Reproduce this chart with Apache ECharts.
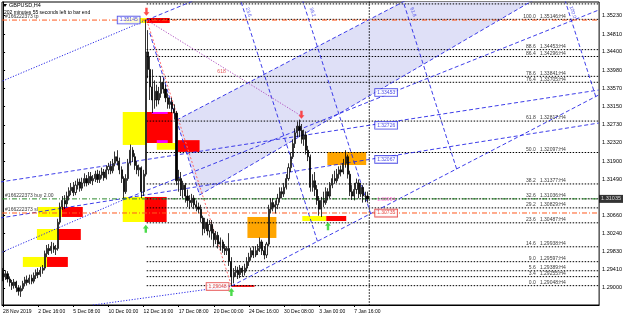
<!DOCTYPE html>
<html><head><meta charset="utf-8">
<script src="https://cdn.jsdelivr.net/npm/echarts@6/dist/echarts.min.js"></script>
<style>html,body{margin:0;padding:0;background:#fff}#c{width:625px;height:320px}</style>
</head><body><div id="c"></div>
<script>
// [open, close, low, high]
const candles = [
[1.2935,1.2925,1.2915,1.2945],[1.2925,1.2932,1.2918,1.2940],[1.2932,1.2920,1.2912,1.2938],[1.2920,1.2912,1.2903,1.2926],
[1.2912,1.2905,1.2895,1.2918],[1.2905,1.2913,1.2898,1.2920],[1.2913,1.2900,1.2890,1.2916],[1.2900,1.2892,1.2882,1.2906],
[1.2892,1.2898,1.2879,1.2905],[1.2898,1.2910,1.2893,1.2916],[1.2910,1.2918,1.2903,1.2925],[1.2918,1.2912,1.2905,1.2928],
[1.2912,1.2922,1.2908,1.2930],[1.2922,1.2915,1.2908,1.2930],[1.2915,1.2928,1.2910,1.2935],[1.2928,1.2935,1.2920,1.2942],
[1.2935,1.2930,1.2922,1.2945],[1.2930,1.2940,1.2925,1.2948],[1.2940,1.2945,1.2932,1.2952],[1.2945,1.2978,1.2940,1.2985],
[1.2978,1.2990,1.2970,1.2998],[1.2990,1.2985,1.2975,1.3000],[1.2985,1.2995,1.2978,1.3005],[1.2995,1.2988,1.2980,1.3003],
[1.2988,1.2990,1.2975,1.2998],[1.2990,1.3050,1.2985,1.3058],[1.3050,1.3085,1.3045,1.3095],[1.3085,1.3100,1.3078,1.3110],
[1.3100,1.3092,1.3080,1.3112],[1.3092,1.3110,1.3085,1.3120],[1.3110,1.3122,1.3100,1.3130],[1.3122,1.3130,1.3112,1.3140],
[1.3130,1.3118,1.3110,1.3142],[1.3118,1.3135,1.3112,1.3145],[1.3135,1.3142,1.3125,1.3150],[1.3142,1.3128,1.3120,1.3150],
[1.3128,1.3140,1.3122,1.3152],[1.3140,1.3150,1.3132,1.3162],[1.3150,1.3140,1.3132,1.3158],[1.3140,1.3155,1.3135,1.3165],
[1.3155,1.3145,1.3138,1.3165],[1.3145,1.3150,1.3135,1.3158],[1.3150,1.3160,1.3142,1.3168],[1.3160,1.3148,1.3140,1.3170],
[1.3148,1.3158,1.3140,1.3168],[1.3158,1.3165,1.3150,1.3175],[1.3165,1.3152,1.3145,1.3172],[1.3152,1.3170,1.3148,1.3180],
[1.3170,1.3178,1.3160,1.3186],[1.3178,1.3168,1.3160,1.3190],[1.3168,1.3185,1.3162,1.3195],[1.3185,1.3200,1.3178,1.3212],
[1.3200,1.3190,1.3180,1.3215],[1.3190,1.3170,1.3160,1.3198],[1.3170,1.3150,1.3140,1.3178],[1.3150,1.3120,1.3105,1.3155],
[1.3120,1.3150,1.3115,1.3160],[1.3150,1.3185,1.3145,1.3195],[1.3185,1.3215,1.3180,1.3228],[1.3215,1.3200,1.3188,1.3222],
[1.3200,1.3180,1.3170,1.3208],[1.3180,1.3170,1.3160,1.3190],[1.3170,1.3175,1.3155,1.3182],[1.3175,1.3120,1.3105,1.3178],
[1.3120,1.3160,1.3110,1.3170],[1.3160,1.3440,1.3155,1.3514],[1.3440,1.3400,1.3380,1.3490],[1.3400,1.3360,1.3330,1.3430],
[1.3360,1.3330,1.3300,1.3400],[1.3330,1.3350,1.3310,1.3375],[1.3350,1.3330,1.3315,1.3365],[1.3330,1.3345,1.3320,1.3360],
[1.3345,1.3370,1.3335,1.3385],[1.3370,1.3355,1.3345,1.3380],[1.3355,1.3335,1.3325,1.3365],[1.3335,1.3320,1.3310,1.3345],
[1.3320,1.3325,1.3310,1.3335],[1.3325,1.3310,1.3300,1.3335],[1.3310,1.3300,1.3285,1.3320],[1.3300,1.3145,1.3135,1.3305],
[1.3145,1.3150,1.3120,1.3170],[1.3150,1.3125,1.3110,1.3165],[1.3125,1.3135,1.3105,1.3145],[1.3135,1.3110,1.3095,1.3140],
[1.3110,1.3100,1.3085,1.3125],[1.3100,1.3095,1.3080,1.3112],[1.3095,1.3105,1.3085,1.3115],[1.3105,1.3090,1.3080,1.3112],
[1.3090,1.3085,1.3075,1.3100],[1.3085,1.3080,1.3070,1.3095],[1.3080,1.3060,1.3050,1.3090],[1.3060,1.3035,1.3020,1.3065],
[1.3035,1.3050,1.3025,1.3060],[1.3050,1.3030,1.3020,1.3058],[1.3030,1.3045,1.3015,1.3055],[1.3045,1.3025,1.3010,1.3055],
[1.3025,1.3010,1.2995,1.3035],[1.3010,1.3020,1.3000,1.3030],[1.3020,1.3000,1.2990,1.3028],[1.3000,1.3005,1.2985,1.3015],
[1.3005,1.2990,1.2980,1.3010],[1.2990,1.2985,1.2975,1.3000],[1.2985,1.2990,1.2975,1.2995],[1.2990,1.2960,1.2950,1.3025],
[1.2960,1.2925,1.2905,1.2970],[1.2925,1.2935,1.2910,1.2945],[1.2935,1.2940,1.2925,1.2950],[1.2940,1.2930,1.2920,1.2948],
[1.2930,1.2945,1.2922,1.2952],[1.2945,1.2935,1.2925,1.2950],[1.2935,1.2945,1.2928,1.2955],[1.2945,1.2960,1.2938,1.2970],
[1.2960,1.2970,1.2950,1.2980],[1.2970,1.2985,1.2962,1.2992],[1.2985,1.2975,1.2968,1.2995],[1.2975,1.2985,1.2970,1.2995],
[1.2985,1.2990,1.2975,1.3000],[1.2990,1.3005,1.2982,1.3015],[1.3005,1.2985,1.2975,1.3010],[1.2985,1.2975,1.2965,1.2995],
[1.2975,1.3000,1.2968,1.3005],[1.3000,1.3080,1.2995,1.3090],[1.3080,1.3095,1.3070,1.3105],[1.3095,1.3085,1.3075,1.3105],
[1.3085,1.3090,1.3070,1.3100],[1.3090,1.3105,1.3080,1.3115],[1.3105,1.3120,1.3095,1.3130],[1.3120,1.3115,1.3105,1.3130],
[1.3115,1.3130,1.3108,1.3140],[1.3130,1.3150,1.3125,1.3160],[1.3150,1.3175,1.3145,1.3185],[1.3175,1.3200,1.3165,1.3210],
[1.3200,1.3230,1.3195,1.3240],[1.3230,1.3255,1.3220,1.3265],[1.3255,1.3270,1.3245,1.3280],[1.3270,1.3260,1.3245,1.3285],
[1.3260,1.3240,1.3230,1.3275],[1.3240,1.3250,1.3225,1.3262],[1.3250,1.3215,1.3205,1.3258],[1.3215,1.3200,1.3190,1.3225],
[1.3200,1.3130,1.3120,1.3205],[1.3130,1.3145,1.3120,1.3160],[1.3145,1.3125,1.3110,1.3165],[1.3125,1.3100,1.3090,1.3135],
[1.3100,1.3080,1.3065,1.3110],[1.3080,1.3100,1.3062,1.3108],[1.3100,1.3095,1.3085,1.3120],[1.3095,1.3120,1.3090,1.3130],
[1.3120,1.3110,1.3100,1.3128],[1.3110,1.3135,1.3105,1.3142],[1.3135,1.3150,1.3128,1.3160],[1.3150,1.3145,1.3138,1.3168],
[1.3145,1.3160,1.3140,1.3172],[1.3160,1.3170,1.3150,1.3178],[1.3170,1.3165,1.3155,1.3180],[1.3165,1.3185,1.3160,1.3195],
[1.3185,1.3200,1.3175,1.3215],[1.3200,1.3160,1.3150,1.3205],[1.3160,1.3120,1.3110,1.3168],[1.3120,1.3110,1.3101,1.3135],
[1.3110,1.3125,1.3100,1.3140],[1.3125,1.3140,1.3115,1.3150],[1.3140,1.3115,1.3105,1.3148],[1.3115,1.3130,1.3108,1.3140],
[1.3130,1.3110,1.3095,1.3135],[1.3110,1.3110,1.3096,1.3120],[1.3110,1.31035,1.3095,1.3120]
];
const barSlots = 272;
const timeLabels = ['28 Nov 2019','2 Dec 16:00','5 Dec 08:00','10 Dec 00:00','12 Dec 16:00','17 Dec 08:00','20 Dec 00:00','24 Dec 16:00','30 Dec 08:00','3 Jan 00:00','7 Jan 16:00'];
const labelEvery = 16;
const priceTicks = [1.35230,1.34810,1.34400,1.33980,1.33570,1.33150,1.32730,1.32320,1.31900,1.31490,1.30660,1.30240,1.29830,1.29410,1.29000,1.28580];
const fibLevels = [100.0,88.6,86.4,78.6,76.4,61.8,50.0,38.2,32.6,29.2,23.6,14.6,9.0,5.6,3.4,0.0];
const fibPrices = [1.35146,1.34453,1.34296,1.33841,1.33705,1.32817,1.32097,1.31377,1.31036,1.30829,1.30487,1.29938,1.29597,1.29389,1.29255,1.29048];
const fibExtraPrice = 1.3550;
const fibStart = 65.4;
const bidPrice = 1.31035;
const tpPrice = 1.3513, slPrice = 1.30712, buyPrice = 1.31035;
const vLineBar = 166.8;
// zones: [barFrom, barTo, priceTop, priceBottom]
const yellowZones = [[54.5,65.4,1.33025,1.3227],[70,79,1.32315,1.3216],[54.5,64.5,1.31079,1.30506],[15.9,26.8,1.3085,1.30621],[15.4,25,1.30346,1.30094],[9,20,1.29705,1.29476],[136.3,147.2,1.30643,1.30529],[55.4,65.4,1.35177,1.35062]];
const redZones = [[65.4,77.2,1.33025,1.32315],[79.5,89.5,1.3238,1.3211],[64.5,74.5,1.31079,1.30506],[26.8,36.3,1.3085,1.30621],[25,35.4,1.30346,1.30094],[20,29.5,1.29705,1.29476],[147.2,156.3,1.30643,1.30529],[65.4,75.9,1.35177,1.35062],[104,114.5,1.2906,1.2902]];
const magentaZones = [[67.7,75,1.33025,1.3298],[70,75,1.3238,1.32315]];
const orangeZones = [[111.3,124.5,1.30621,1.3014],[147.7,165.4,1.32109,1.31811]];
// shaded channel polygon [bar, price]
const channelFill = [[79.05,1.32841],[201.3,1.36047],[257.23,1.36047],[89.5,1.31124]];
// trend lines: [[bar1, price1], [bar2, price2]]
const dashedBlue = [
  [[65.41,1.35131],[90,1.3564]],
  [[104.05,1.2904],[271.3,1.33414]],
  [[-1.41,1.31421],[271.3,1.33528]],
  [[-1.41,1.30597],[271.3,1.32772]],
  [[54.5,1.31009],[271.3,1.35360]],
  [[79.05,1.32841],[201.3,1.36047]],
  [[89.5,1.31124],[257.23,1.36047]],
  [[66.8,1.34833],[89.5,1.31124]],
  [[143.2,1.30064],[104.56,1.36154]],
  [[167.42,1.30697],[128.78,1.36787]],
  [[206.58,1.31721],[167.94,1.37811]],
  [[269.95,1.33378],[231.31,1.39468]]
];
const dottedBlue = [
  [[-1.41,1.33711],[65.41,1.35131]],
  [[40.86,1.28604],[104.05,1.2904]],
  [[-1.41,1.29795],[54.5,1.31009]]
];
const fibAnchorLine = [[65.41,1.35131],[104.05,1.2904]];
const purpleLine = [[65.41,1.35131],[135.86,1.32933]];
const channelLevelTags = [[111.8,1.3531,'23.6'],[140.9,1.3531,'38.2'],[186.8,1.3531,'61.8'],[259.5,1.3531,'100.0']];
const downArrows = [[65.3,1.3532],[135.9,1.3296],[-0.6,1.2959]];
const upArrows = [[65,1.3035],[104,1.2890],[148,1.3041]];
const blueTags = [[57.2,1.3513,'1.35145'],[174.5,1.3347,'1.33453'],[174.5,1.3272,'1.32726'],[174.5,1.3194,'1.32067']];
const redTags = [[97.7,1.2903,'1.29048'],[174.5,1.3071,'1.30735']];
const pinkTags = [[174.5,1.3101,'1.30954']];
const redNotes = [[99.5,1.3394,'618']];

const chart = echarts.init(document.getElementById('c'));
const F = 'Liberation Sans, Arial, sans-serif';
const cats = Array.from({length: barSlots}, (_, i) => i);

function rectSeries(zones, fill) {
  return {
    type: 'custom', xAxisIndex: 1, yAxisIndex: 0, clip: true, silent: true, z: 2,
    data: zones,
    renderItem: function (params, api) {
      const a = api.coord([api.value(0), api.value(2)]);
      const b = api.coord([api.value(1), api.value(3)]);
      return { type: 'rect', shape: { x: a[0], y: a[1], width: b[0] - a[0], height: Math.max(1.5, b[1] - a[1]) },
        style: { fill: fill } };
    }
  };
}
function seg(points, color, type, width, z) {
  return { type: 'line', xAxisIndex: 1, data: points, symbol: 'none', clip: true, silent: true, z: z || 3,
    lineStyle: { color: color, type: type, width: width || 1 } };
}
function hline(price, color, type) {
  return seg([[-0.5, price], [barSlots - 0.5, price]], color, type, 1, 4);
}
function textSeries(items, pos, offset, style, z) {
  return { type: 'scatter', xAxisIndex: 1, data: items.map(t => ({ value: [t[0], t[1]], name: t[2] })), symbolSize: 0, z: z || 8, silent: true,
    label: Object.assign({ show: true, position: pos, distance: 0, offset: offset, formatter: p => p.name, fontSize: 5, fontFamily: F }, style) };
}

const series = [];
series.push({ type: 'custom', xAxisIndex: 1, clip: true, silent: true, z: 1, data: [0],
  renderItem: function (params, api) {
    return { type: 'polygon', shape: { points: channelFill.map(p => api.coord(p)) }, style: { fill: '#dfe0f7' } };
  } });
series.push(rectSeries(yellowZones, '#ffff00'));
series.push(rectSeries(redZones, '#ff0000'));
series.push(rectSeries(magentaZones, '#ff00ff'));
series.push(rectSeries(orangeZones, '#ffa500'));
fibPrices.concat([fibExtraPrice]).forEach(p => series.push(seg([[fibStart, p], [barSlots - 0.5, p]], '#000', [1.5, 1.5], 1, 3)));
series.push(seg([[vLineBar, 1.2], [vLineBar, 1.4]], '#000', [1.5, 1.5], 1, 3));
dashedBlue.forEach(l => series.push(seg(l, '#2828e6', [4, 2.5], 0.9, 3)));
dottedBlue.forEach(l => series.push(seg(l, '#2828e6', [1.2, 1.6], 1, 3)));
series.push(seg(fibAnchorLine, '#ff6a6a', [2, 2], 1, 3));
series.push(seg(purpleLine, '#b050c0', [1.2, 1.6], 1, 3));
series.push(hline(tpPrice, '#ff5a1e', [5, 2, 1, 2]));
series.push(hline(slPrice, '#ff5a1e', [5, 2, 1, 2]));
series.push(hline(buyPrice, '#2e8b2e', [5, 2, 1, 2]));
series.push({ type: 'candlestick', xAxisIndex: 0, data: candles, barWidth: 1.6, z: 5,
  itemStyle: { color: '#ffffff', color0: '#000000', borderColor: '#000000', borderColor0: '#000000', borderWidth: 0.8 } });
series.push(textSeries(fibPrices.map((p, k) => [256.3, p, fibLevels[k].toFixed(1) + '   ' + p.toFixed(5) + ':H4']), 'left', [0, -3], { color: '#000' }, 6));
series.push(textSeries([[0.9, tpPrice, '#166222373 tp'], [0.9, slPrice, '#166222373 sl'], [0.9, buyPrice, '#166222373 buy 2.00']], 'right', [0, -3], { color: '#000' }, 6));
series.push(textSeries([[barSlots - 0.5, bidPrice, bidPrice.toFixed(5)]], 'right', [0, 0], { color: '#fff', backgroundColor: '#000', padding: [1, 2], fontSize: 5.5 }, 9));
series.push(textSeries(channelLevelTags, 'inside', [0, 0], { color: '#2828e6', rotate: -72 }, 6));
series.push({ type: 'scatter', xAxisIndex: 1, data: downArrows, z: 7, silent: true, clip: true,
  symbol: 'path://M3,0 L7,0 L7,6 L10,6 L5,11 L0,6 L3,6 Z', symbolSize: [6, 8], itemStyle: { color: '#ff1e1e' } });
series.push({ type: 'scatter', xAxisIndex: 1, data: upArrows, z: 7, silent: true,
  symbol: 'path://M3,11 L7,11 L7,5 L10,5 L5,0 L0,5 L3,5 Z', symbolSize: [6, 8], itemStyle: { color: '#1ed21e' } });
series.push(textSeries(blueTags, 'inside', [0, 0], { color: '#2020e0', backgroundColor: '#fff', borderColor: '#2020e0', borderWidth: 0.8, padding: [1, 2] }, 8));
series.push(textSeries(redTags, 'inside', [0, 0], { color: '#e02020', backgroundColor: '#fff', borderColor: '#e02020', borderWidth: 0.8, padding: [1, 2] }, 8));
series.push(textSeries(pinkTags, 'inside', [0, 0], { color: '#ff50c8' }, 8));
series.push(textSeries(redNotes, 'inside', [0, 0], { color: '#e03030' }, 8));

const option = {
  animation: false,
  backgroundColor: '#ffffff',
  grid: { left: 2, right: 25, top: 2, bottom: 15, show: true, borderColor: '#000', borderWidth: 1, backgroundColor: 'transparent' },
  xAxis: [
    { type: 'category', data: cats, boundaryGap: true,
      axisLine: { show: true, lineStyle: { color: '#000', width: 1 } },
      axisTick: { show: true, alignWithLabel: true, interval: (i) => i % labelEvery === 0 && i / labelEvery < timeLabels.length, length: 2, lineStyle: { color: '#000' } },
      axisLabel: { interval: (i) => i % labelEvery === 0 && i / labelEvery < timeLabels.length, formatter: (v, i) => timeLabels[i / labelEvery] || '', fontSize: 5, fontFamily: F, color: '#000', align: 'left', margin: 4 },
      splitLine: { show: false } },
    { type: 'value', min: -0.5, max: barSlots - 0.5, show: false }
  ],
  yAxis: { type: 'value', position: 'right', min: 1.28605, max: 1.355437, scale: true,
    axisLine: { show: true, lineStyle: { color: '#000', width: 1 } },
    axisTick: { show: true, length: 2, customValues: priceTicks, lineStyle: { color: '#000' } },
    axisLabel: { customValues: priceTicks, formatter: v => v.toFixed(5), fontSize: 5.5, fontFamily: F, color: '#000', margin: 3 },
    splitLine: { show: false } },
  graphic: [
    { type: 'text', left: 9, top: 2, style: { text: 'GBPUSD,H4', font: '5.5px ' + F, fill: '#000' } },
    { type: 'polygon', shape: { points: [[3, 4], [7, 4], [5, 7]] }, style: { fill: '#000' } },
    { type: 'text', left: 4, top: 10, style: { text: '202 minutes 55 seconds left to bar end', font: '5px ' + F, fill: '#000' } }
  ],
  series: series
};
chart.setOption(option);
</script></body></html>
